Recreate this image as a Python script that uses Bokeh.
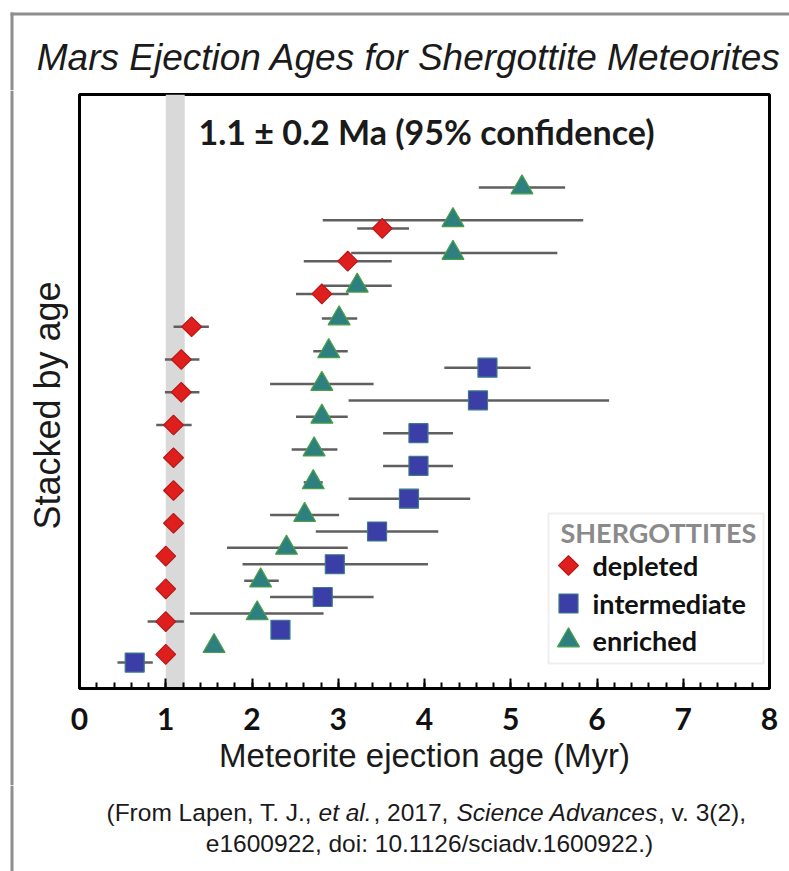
import math
import numpy as np
from bokeh.plotting import figure
from bokeh.layouts import column, row
from bokeh.models import BoxAnnotation, Label, FixedTicker, Range1d
from bokeh.core.properties import value
from bokeh.embed import file_html
from bokeh.resources import INLINE

# ---------------- data (ages in Myr, sorted by age within each group) ----------------
depleted_age = [1.00, 1.00, 1.00, 1.00, 1.09, 1.09, 1.09, 1.09, 1.18, 1.18, 1.30, 2.81, 3.11, 3.51]
depleted_lo  = [1.00, 0.79, 1.00, 1.00, 1.09, 1.09, 1.09, 0.89, 0.99, 0.99, 1.09, 2.51, 2.60, 3.22]
depleted_hi  = [1.00, 1.21, 1.00, 1.00, 1.09, 1.09, 1.09, 1.30, 1.39, 1.39, 1.50, 3.12, 3.62, 3.82]

intermediate_age = [0.64, 2.33, 2.82, 2.96, 3.45, 3.82, 3.93, 3.93, 4.62, 4.73]
intermediate_lo  = [0.44, 2.33, 2.21, 1.89, 2.74, 3.12, 3.52, 3.52, 3.12, 4.23]
intermediate_hi  = [0.85, 2.33, 3.41, 4.04, 4.16, 4.53, 4.33, 4.33, 6.14, 5.23]

enriched_age = [1.56, 2.06, 2.10, 2.40, 2.61, 2.71, 2.72, 2.81, 2.81, 2.89, 3.01, 3.22, 4.33, 4.33, 5.13]
enriched_lo  = [1.56, 1.28, 1.91, 1.71, 2.21, 2.60, 2.46, 2.51, 2.21, 2.71, 2.81, 2.83, 3.15, 2.82, 4.63]
enriched_hi  = [1.56, 2.83, 2.31, 3.11, 3.01, 2.82, 2.99, 3.11, 3.41, 3.11, 3.22, 3.62, 5.54, 5.84, 5.63]

group_names = ["depleted", "intermediate", "enriched"]
group_stack_offset = {"intermediate": 0, "depleted": 1, "enriched": 2}
stack_step = 4

band_lo, band_hi = 1.0, 1.22          # 1.1 +/- 0.2 Ma confidence band
x_tick_values = [0, 1, 2, 3, 4, 5, 6, 7, 8]

title_text = "Mars Ejection Ages for Shergottite Meteorites"
annot_text = "1.1 \u00b1 0.2 Ma (95% confidence)"
x_label = "Meteorite ejection age (Myr)"
y_label = "Stacked by age"
legend_title = "SHERGOTTITES"
caption1_parts = ["(From Lapen, T. J.,", "et al.", ", 2017,", "Science Advances", ", v. 3(2),"]
caption1_styles = ["normal", "italic", "normal", "italic", "normal"]
caption2 = "e1600922, doi: 10.1126/sciadv.1600922.)"

# ---------------- styles ----------------
colors = {"depleted": ("#de1f1d", "#b81818"),
          "intermediate": ("#3a3ea6", "#3b7a8a"),
          "enriched": ("#2e7f7f", "#4aa043")}
markers = {"depleted": ("square", 14, math.pi / 4),
           "intermediate": ("square", 19, 0.0),
           "enriched": ("triangle", 22, 0.0)}
FRAME_GREY = "#8e8e8e"
W = 789

# page layout (pixels): title strip 0-90, plot strip 90-785, caption strip 785-871
TOP_H, MID_H, BOT_H = 90, 695, 86
LEFT_W = 68


def strip(width, height, y_top):
    f = figure(width=width, height=height, x_range=Range1d(0, width),
               y_range=Range1d(y_top + height, y_top),
               x_axis_location=None, y_axis_location=None,
               output_backend="svg", toolbar_location=None,
               min_border=0, min_border_left=0, min_border_right=0,
               min_border_top=0, min_border_bottom=0)
    f.frame_align = False
    f.grid.visible = False
    f.outline_line_color = None
    f.background_fill_color = "white"
    f.border_fill_color = "white"
    return f


def grey_edge(f, l, r, t, b):
    f.quad(left=[l], right=[r], top=[t], bottom=[b], fill_color=FRAME_GREY,
           line_color=None, level="underlay")


# ---- title strip ----
top = strip(W, TOP_H, 0)
grey_edge(top, 10, W, 12, 15)
grey_edge(top, 10, 13, 12, TOP_H)
top.text(x=[408.5], y=[57], text=[title_text], text_align="center", text_baseline="middle",
         text_font=value("Liberation Sans"), text_font_style=value("italic"),
         text_font_size=value("37px"), text_color="#1a1a1a")

# ---- y-label strip ----
left = strip(LEFT_W, MID_H, TOP_H)
grey_edge(left, 10, 13, TOP_H, TOP_H + MID_H)
left.text(x=[47], y=[405], text=[y_label], angle=math.pi / 2, text_align="center",
          text_baseline="middle", text_font=value("Liberation Sans"),
          text_font_size=value("36px"), text_color="#1a1a1a")

# ---- main plot ----
Y0, Y1 = -3.17, 69.35
p = figure(width=W - LEFT_W, height=MID_H, x_range=(0, 8), y_range=(Y0, Y1),
           output_backend="svg", toolbar_location=None,
           min_border_left=79 - LEFT_W, min_border_right=20, min_border_top=4, min_border_bottom=97)
p.frame_align = False

FX0, FSX = 79.0, 690.0 / 8.0
FYB, FSY = 688.0, 594.0 / (Y1 - Y0)
def px_x(px):
    return (px - FX0) / FSX
def px_y(py):
    return Y0 + (FYB - py) / FSY

p.background_fill_color = "white"
p.border_fill_color = "white"
p.outline_line_color = "black"
p.outline_line_width = 3
p.grid.visible = False
p.yaxis.visible = False

p.xaxis.ticker = FixedTicker(ticks=x_tick_values,
                             minor_ticks=list(np.round(np.arange(0, 8.001, 0.2), 2)))
p.xaxis.axis_line_width = 3
p.xaxis.axis_line_color = "black"
p.xaxis.major_tick_in = 10
p.xaxis.major_tick_out = 0
p.xaxis.minor_tick_in = 6
p.xaxis.minor_tick_out = 0
p.xaxis.major_tick_line_width = 2
p.xaxis.minor_tick_line_width = 2
p.xaxis.major_tick_line_color = "black"
p.xaxis.minor_tick_line_color = "black"
p.xaxis.major_label_text_font = "Lato"
p.xaxis.major_label_text_font_style = "bold"
p.xaxis.major_label_text_font_size = "30px"
p.xaxis.major_label_text_color = "#111111"
p.xaxis.major_label_standoff = 19
p.xaxis.axis_label = x_label
p.xaxis.axis_label_text_font = "Liberation Sans"
p.xaxis.axis_label_text_font_style = "normal"
p.xaxis.axis_label_text_font_size = "33px"
p.xaxis.axis_label_text_color = "#1a1a1a"
p.xaxis.axis_label_standoff = 4

# confidence band
p.add_layout(BoxAnnotation(left=band_lo, right=band_hi, fill_color="#d9d9d9", fill_alpha=1.0,
                           line_color=None, level="underlay"))

groups = {"depleted": (depleted_age, depleted_lo, depleted_hi),
          "intermediate": (intermediate_age, intermediate_lo, intermediate_hi),
          "enriched": (enriched_age, enriched_lo, enriched_hi)}
stack = {g: [stack_step * i + group_stack_offset[g] for i in range(len(groups[g][0]))]
         for g in group_names}

for g in group_names:
    age, lo, hi = groups[g]
    p.segment(x0=lo, x1=hi, y0=stack[g], y1=stack[g], line_color="#5f5f5f", line_width=2.5)
for g in group_names:
    age, lo, hi = groups[g]
    mk, sz, ang = markers[g]
    p.scatter(x=age, y=stack[g], marker=mk, size=sz, angle=ang,
              fill_color=colors[g][0], line_color=colors[g][1], line_width=1.2)

p.add_layout(Label(x=px_x(198), y=px_y(131), text=annot_text, text_align="left",
                   text_baseline="middle", text_font="Lato", text_font_style="bold",
                   text_font_size="34px", text_color="#1a1a1a"))

# legend (drawn by hand so the diamond keeps its orientation)
p.add_layout(BoxAnnotation(left=px_x(548), right=px_x(763), top=px_y(513), bottom=px_y(663),
                           fill_color="white", fill_alpha=1.0, line_color="#c8c8c8",
                           line_width=2, level="underlay"))
p.add_layout(Label(x=px_x(560), y=px_y(532), text=legend_title, text_align="left",
                   text_baseline="middle", text_font="Lato", text_font_style="bold",
                   text_font_size="27px", text_color="#8a8a8a"))
legend_rows_px = [565, 603, 640]
for g, ry in zip(group_names, legend_rows_px):
    mk, sz, ang = markers[g]
    p.scatter(x=[px_x(568)], y=[px_y(ry)], marker=mk, size=sz, angle=ang,
              fill_color=colors[g][0], line_color=colors[g][1], line_width=1.2)
    p.add_layout(Label(x=px_x(592), y=px_y(ry), text=g, text_align="left",
                       text_baseline="middle", text_font="Lato", text_font_style="bold",
                       text_font_size="27px", text_color="#111111"))

# ---- caption strip ----
bot = strip(W, BOT_H, TOP_H + MID_H)
grey_edge(bot, 10, 13, TOP_H + MID_H, TOP_H + MID_H + BOT_H)
cap_x_px = [106, 318, 373, 456, 657.5]
bot.text(x=cap_x_px, y=[812] * len(cap_x_px), text=caption1_parts, text_font_style=caption1_styles,
         text_align="left", text_baseline="middle", text_font=value("Liberation Sans"),
         text_font_size=value("24.5px"), text_color="#1a1a1a")
bot.text(x=[429], y=[843], text=[caption2], text_align="center", text_baseline="middle",
         text_font=value("Liberation Sans"), text_font_size=value("24.5px"), text_color="#1a1a1a")

layout = column(top, row(left, p), bot)
open("out.html", "w").write(file_html(layout, INLINE))
